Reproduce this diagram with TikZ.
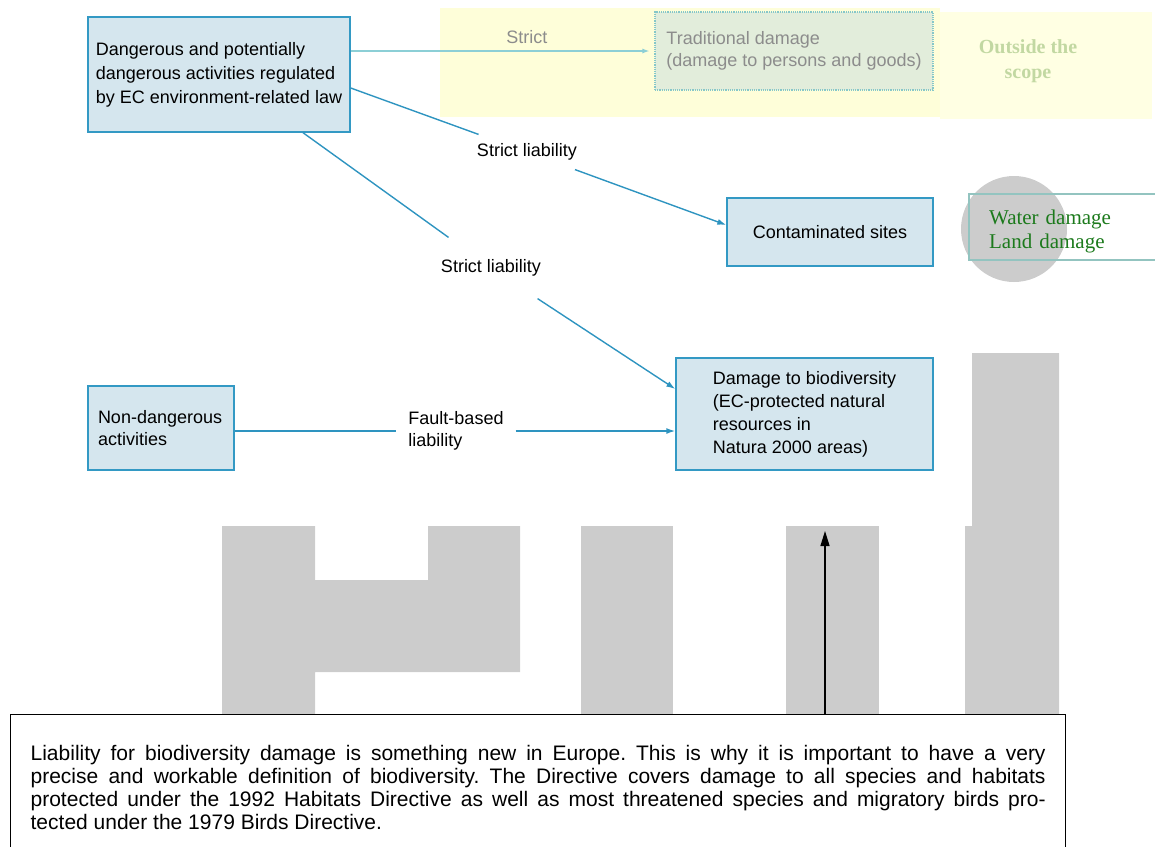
\documentclass[tikz,border=0pt]{standalone}
\usepackage{fontspec}
\setmainfont{Liberation Sans}
\newfontfamily\timesface{Liberation Serif}
\usetikzlibrary{arrows.meta}

\definecolor{boxfill}{HTML}{D5E6EE}
\definecolor{boxedge}{HTML}{3399C4}
\definecolor{linkblue}{HTML}{2E94C0}
\definecolor{faintline}{HTML}{8CCFD6}
\definecolor{paleyellow}{HTML}{FEFED9}
\definecolor{scopeyellow}{HTML}{FFFFE3}
\definecolor{tradfill}{HTML}{E2EDDB}
\definecolor{tradedge}{HTML}{86C7C9}
\definecolor{fadedtext}{HTML}{8C8C8C}
\definecolor{scopegreen}{HTML}{C2D8A2}
\definecolor{waterline}{HTML}{93C4C0}
\definecolor{watergreen}{HTML}{1C7A1C}
\definecolor{blockgray}{HTML}{CCCCCC}

\tikzset{
  rulebox/.style={draw=boxedge, fill=boxfill, line width=1.4pt,
    font=\fontsize{18}{23}\selectfont},
  link/.style={draw=linkblue, line width=1.4pt},
  linkarrow/.style={link, -{Latex[length=9pt,width=6pt]}},
  liab/.style={font=\fontsize{18}{22}\selectfont, inner sep=9pt}
}

\begin{document}
\begin{tikzpicture}[x=1pt, y={(0pt,-1pt)}]
\useasboundingbox (0,0) rectangle (1155,846);

\fill[paleyellow] (440,8) rectangle (940,117);
\fill[scopeyellow] (940,12) rectangle (1152,119);
\node[draw=tradedge, densely dotted, line width=1.2pt, fill=tradfill, text=fadedtext,
  align=left, minimum width=278pt, minimum height=78pt,
  font=\fontsize{18}{22}\selectfont] (trad) at (794,51)
  {Traditional damage\\(damage to persons and goods)};
\node[text=scopegreen, align=center, font=\timesface\bfseries\fontsize{20}{25}\selectfont]
  (outside) at (1028,61) {Outside the\\scope};

\fill[blockgray] (222,526) -- (315,526) -- (315,580) -- (428,580) -- (428,526)
  -- (520,526) -- (520,672) -- (315,672) -- (315,714) -- (222,714) -- cycle;
\fill[blockgray] (581,526) rectangle (673,714);
\fill[blockgray] (786,526) rectangle (879,714);
\fill[blockgray] (972,353) -- (1059,353) -- (1059,714) -- (965,714) -- (965,526)
  -- (972,526) -- cycle;
\fill[blockgray] (1014,229) circle[radius=53pt];

\node[draw=waterline, line width=2.2pt, text=watergreen, anchor=north west,
  align=left, text width=160pt, inner xsep=20pt, minimum height=66pt,
  font=\timesface\fontsize{21}{24}\selectfont] (water) at (968,193)
  {\rule{0pt}{23pt}Water damage\\Land damage};

\node[rulebox, font=\fontsize{18}{24}\selectfont, align=left, minimum width=262pt,
  minimum height=115pt] (danger) at (219,74.5)
  {Dangerous and potentially\\dangerous activities regulated\\by EC environment-related law};
\node[rulebox, minimum width=206pt, minimum height=68pt] (contam) at (830,232)
  {Contaminated sites};
\node[rulebox, align=left, minimum width=257pt, minimum height=112pt]
  (bio) at (804.5,414)
  {Damage to biodiversity\\(EC-protected natural\\resources in\\Natura 2000 areas)};
\node[rulebox, font=\fontsize{18}{22}\selectfont, align=left, text width=126pt,
  inner xsep=10pt, minimum height=84pt] (nondang) at (161,428)
  {Non-dangerous\\activities};

\node[liab] (strict1) at (527,152) {Strict liability};
\node[liab, inner ysep=22pt] (strict2) at (491,268) {Strict liability};
\node[liab, align=left, inner xsep=12pt] (fault) at (456,431) {Fault-based\\liability};

\draw[draw=faintline, line width=1.2pt, -{Latex[length=7pt,width=5pt]}, shorten >=5pt]
  (danger.east |- trad) -- (trad.west)
  node[pos=0.58, above=3pt, text=fadedtext, font=\fontsize{18}{22}\selectfont] (strict0) {Strict};
\draw[link] ([yshift=-13.5pt]danger.east) -- (strict1);
\draw[linkarrow] (strict1) -- ([yshift=7pt]contam.west);
\draw[link] ([xshift=84pt]danger.south) -- (strict2);
\draw[linkarrow] (strict2) -- ([yshift=25pt]bio.west);
\draw[link] (nondang.east |- fault) -- (fault);
\draw[linkarrow] (fault) -- (bio.west |- fault);

\node[draw=black, line width=1.3pt, fill=white, anchor=north west, text width=1015pt,
  inner xsep=20pt, minimum height=146pt, align=justify,
  font=\fontsize{21}{23}\selectfont\frenchspacing] (note) at (10,714)
  {Liability for biodiversity damage is something new in Europe. This is why it is important to have a very\linebreak
  precise and workable definition of biodiversity. The Directive covers damage to all species and habitats\linebreak
  protected under the 1992 Habitats Directive as well as most threatened species and migratory birds pro-\linebreak
  tected under the 1979 Birds Directive.};
\coordinate (gap) at (825,531);
\draw[line width=1.3pt, -{Triangle[length=15pt,width=9pt]}] (note.north -| gap) -- (gap);
\end{tikzpicture}
\end{document}
